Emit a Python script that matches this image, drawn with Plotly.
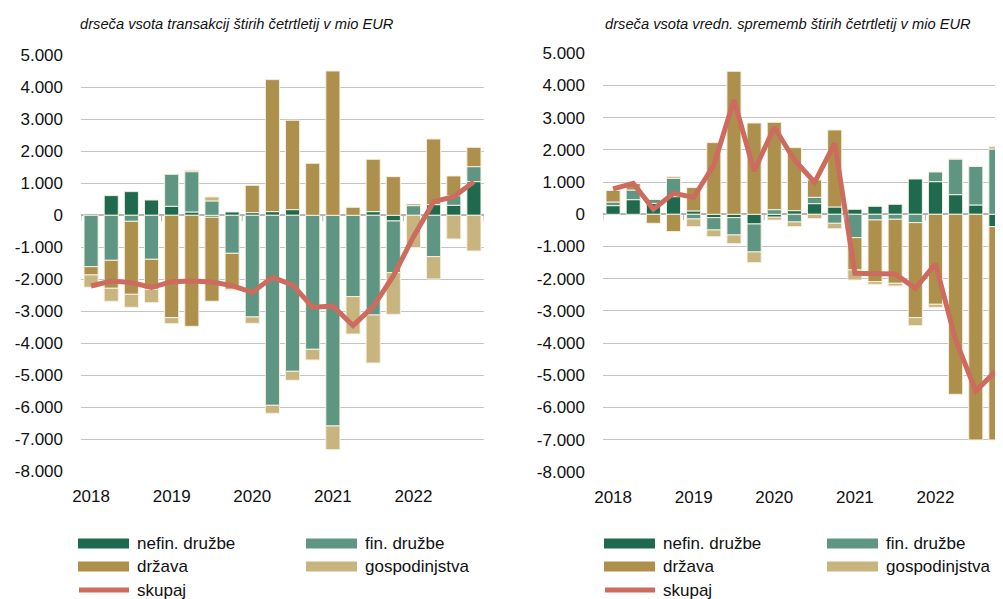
import plotly.graph_objects as go

W, H = 1003, 599
OX, OY = 8, 8  # page body margin offset

quarters = [f"{y}Q{q}" for y in range(2018, 2023) for q in range(1, 5)]
year_labels = ["2018", "2019", "2020", "2021", "2022"]
y_tickvals = [-8000, -7000, -6000, -5000, -4000, -3000, -2000, -1000, 0, 1000, 2000, 3000, 4000, 5000]
y_ticktext = ["-8.000", "-7.000", "-6.000", "-5.000", "-4.000", "-3.000", "-2.000", "-1.000",
              "0", "1.000", "2.000", "3.000", "4.000", "5.000"]

# left panel: transactions
nefin_t = [40, 615, 740, 479, 281, 104, -60, 104, 83, 115, 177, 0, 0, 0, 115, -177, 0, 333, 313, 1052]
fin_t = [-1604, -1406, -188, -1375, 1000, 1260, 450, -1188, -3177, -5938, -4875, -4188, -6583, -2542,
         -3115, -1615, 302, -1292, 302, 469]
drz_t = [-260, -875, -2281, -938, -3198, -3469, -2625, -1125, 854, 4125, 2792, 1625, 4510, 250, 1635,
         1208, 52, 2052, 615, 604]
gosp_t = [-385, -406, -406, -417, -188, 42, 125, -30, -198, -250, -281, -333, -740, -1167, -1500, -1302,
          -1010, -698, -740, -1115]
skupaj_t = [-2208, -2052, -2104, -2250, -2073, -2052, -2083, -2198, -2406, -1938, -2177, -2875, -2833,
            -3448, -2854, -1896, -667, 427, 583, 1052]

# right panel: revaluations
nefin_v = [269, 455, 340, 549, 105, -104, -104, -300, -90, 114, 331, 228, 155, 248, 311, 1097, 1014, 611, 290, -383]
fin_v = [114, 300, 124, 570, -145, -383, -538, -870, 145, -238, 197, -280, -725, -176, -155, -259, 300, 1108,
         1201, 2029]
drz_v = [360, 207, -280, -538, 725, 2226, 4441, 2836, 2712, 1956, 538, 2391, -1004, -1915, -1988, -2950, -2795,
         -5590, -7008, -6625]
gosp_v = [0, 0, 0, 52, -238, -207, -269, -331, -90, -145, -135, -166, -311, -83, -83, -248, -93, 0, 0, 72]
skupaj_v = [787, 963, 155, 652, 528, 1532, 3551, 1346, 2702, 1687, 994, 2205, -1832, -1853, -1853, -2298,
            -1542, -3903, -5487, -4865]

series_names = ["nefin. družbe", "fin. družbe", "država", "gospodinjstva"]
colors = ["#1f6a4f", "#5f9683", "#ae904d", "#c8b47f"]
line_name = "skupaj"
line_color = "#cc6b5e"
titles = ["drseča vsota transakcij štirih četrtletij v mio EUR",
          "drseča vsota vredn. sprememb štirih četrtletij v mio EUR"]

FONT = "Liberation Sans, Arial, sans-serif"
xpos = list(range(len(quarters)))


def fx(px):
    return (px - OX) / W


def fy(py):
    return 1 - (py - OY) / H


fig = go.Figure()
panels = [([nefin_t, fin_t, drz_t, gosp_t], skupaj_t, "x", "y"),
          ([nefin_v, fin_v, drz_v, gosp_v], skupaj_v, "x2", "y2")]
for bars, line, xa, ya in panels:
    for name, vals, col in zip(series_names, bars, colors):
        fig.add_trace(go.Bar(x=xpos, y=vals, name=name, marker_color=col,
                             marker_line=dict(color="#f4f0e2", width=1), width=0.7,
                             xaxis=xa, yaxis=ya, showlegend=False, hoverinfo="skip"))
    fig.add_trace(go.Scatter(x=xpos, y=line, name=line_name, mode="lines",
                             line=dict(color=line_color, width=5), xaxis=xa, yaxis=ya,
                             showlegend=False, hoverinfo="skip"))

n = len(quarters)
axis_common = dict(showgrid=False, zeroline=False, showline=False, ticks="", automargin=False,
                   tickvals=[i * 4 for i in range(len(year_labels))], ticktext=year_labels,
                   range=[-0.5, n - 0.5],
                   tickfont=dict(family=FONT, size=17, color="#111"), ticklabelstandoff=13)
yaxis_common = dict(range=[-8000, 5000], tickvals=y_tickvals, ticktext=y_ticktext, automargin=False,
                    showgrid=True, gridcolor="#c4c4c4", gridwidth=1,
                    zeroline=True, zerolinecolor="#b4b4b4", zerolinewidth=1.5,
                    showline=False, ticks="", tickfont=dict(family=FONT, size=17, color="#111"),
                    ticklabelstandoff=17)

fig.update_layout(
    template="none",
    width=W, height=H, barmode="relative", bargap=0.3, showlegend=False,
    margin=dict(l=0, r=0, t=0, b=0, pad=0, autoexpand=False),
    paper_bgcolor="white", plot_bgcolor="white",
    xaxis=dict(domain=[fx(81), fx(484)], anchor="y", **axis_common),
    xaxis2=dict(domain=[fx(603), fx(1006)], anchor="y2", **axis_common),
    yaxis=dict(domain=[fy(471.3), fy(55.3)], anchor="x", **yaxis_common),
    yaxis2=dict(domain=[fy(471.9), fy(53.3)], anchor="x2", **yaxis_common),
)

shapes = []
annotations = []
# tick marks at year boundaries on the zero line
for xa, ya in [("x", "y"), ("x2", "y2")]:
    for b in range(0, n + 1, 4):
        shapes.append(dict(type="line", xref=xa, yref=ya, x0=b - 0.5, x1=b - 0.5,
                           ysizemode="pixel", yanchor=0, y0=0, y1=-6,
                           line=dict(color="#b4b4b4", width=1)))

# titles
for t, xp in zip(titles, [78, 603]):
    annotations.append(dict(text=t, xref="paper", yref="paper", x=fx(xp), y=fy(24),
                            xanchor="left", yanchor="middle", showarrow=False,
                            font=dict(family=FONT, size=14.7, color="#111", style="italic")))

# manual legends
legend_specs = [
    # (symbol x0, text x, col2 symbol x0, col2 text x)
    (78, 135, 306, 363),
    (604, 661, 827, 884),
]
row_y = [543.5, 566.5, 590]
for s1, t1, s2, t2 in legend_specs:
    items = [(s1, t1, row_y[0], 0), (s2, t2, row_y[0], 1), (s1, t1, row_y[1], 2), (s2, t2, row_y[1], 3)]
    for sx, tx, ry, idx in items:
        shapes.append(dict(type="rect", xref="paper", yref="paper",
                           x0=fx(sx), x1=fx(sx + 51), y0=fy(ry - 5), y1=fy(ry + 5),
                           fillcolor=colors[idx], line=dict(width=0)))
        annotations.append(dict(text=series_names[idx], xref="paper", yref="paper", x=fx(tx), y=fy(ry),
                                xanchor="left", yanchor="middle", showarrow=False,
                                font=dict(family=FONT, size=17, color="#111")))
    shapes.append(dict(type="line", xref="paper", yref="paper",
                       x0=fx(s1 + 1), x1=fx(s1 + 51), y0=fy(row_y[2]), y1=fy(row_y[2]),
                       line=dict(color=line_color, width=5)))
    annotations.append(dict(text=line_name, xref="paper", yref="paper", x=fx(t1), y=fy(row_y[2]),
                            xanchor="left", yanchor="middle", showarrow=False,
                            font=dict(family=FONT, size=17, color="#111")))

fig.update_layout(shapes=shapes, annotations=annotations)
fig.write_html("out.html", config={"displayModeBar": False})
